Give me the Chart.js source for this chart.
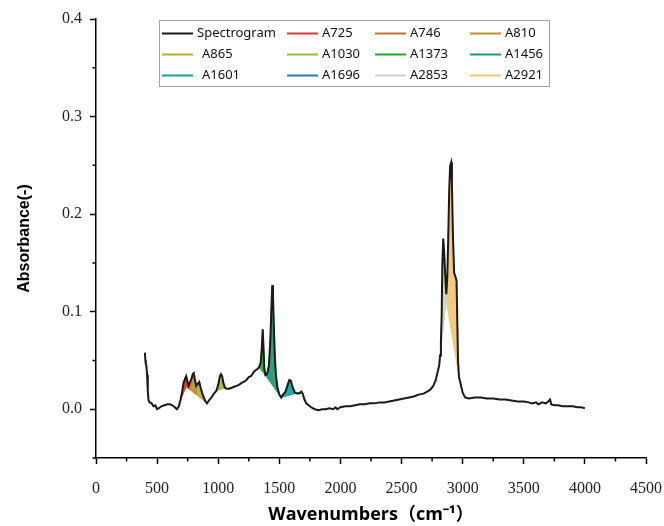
<!DOCTYPE html>
<html>
<head>
<meta charset="utf-8">
<title>FTIR spectrogram</title>
<script src="https://cdn.jsdelivr.net/npm/chart.js@4.4.0/dist/chart.umd.min.js"></script>
<style>
  html, body { margin: 0; padding: 0; background: #fff; }
  canvas { display: block; }
</style>
</head>
<body>
<canvas id="ftir" width="664" height="526"></canvas>
<script>
// spectrum
var wavenumbers = [
  400, 404, 408, 412, 418, 424, 430, 440, 455, 470, 485, 500, 515, 535, 560, 585, 605, 625, 645, 662,
  678, 692, 705, 716, 728, 738, 748, 757, 768, 780, 792, 800, 810, 820, 832, 845, 856, 868, 882, 896,
  908, 925, 945, 965, 985, 1000, 1012, 1022, 1032, 1042, 1055, 1070, 1090, 1110, 1130, 1150, 1170, 1190, 1210, 1230,
  1250, 1270, 1290, 1305, 1320, 1335, 1348, 1356, 1364, 1370, 1377, 1386, 1400, 1415, 1426, 1434, 1442, 1448, 1455, 1463,
  1472, 1485, 1500, 1515, 1530, 1550, 1568, 1582, 1595, 1610, 1628, 1648, 1665, 1680, 1692, 1705, 1720, 1740, 1760, 1790,
  1820, 1850, 1880, 1910, 1940, 1960, 1975, 2000, 2040, 2080, 2120, 2160, 2200, 2240, 2280, 2320, 2360, 2400, 2440, 2480,
  2520, 2560, 2600, 2640, 2680, 2710, 2735, 2760, 2780, 2795, 2808, 2815, 2822, 2828, 2834, 2841, 2848, 2856, 2866, 2874,
  2881, 2890, 2898, 2906, 2912, 2920, 2930, 2940, 2950, 2956, 2962, 2970, 2985, 3000, 3020, 3050, 3100, 3150, 3200, 3250,
  3300, 3350, 3400, 3450, 3500, 3540, 3570, 3600, 3620, 3650, 3680, 3700, 3715, 3725, 3750, 3780, 3820, 3860, 3900, 3940,
  3970, 4000
];
var absorbance = [
  0.058, 0.050, 0.046, 0.045, 0.035, 0.018, 0.009, 0.007, 0.006, 0.003, 0.004, 0.000, 0.001, 0.003, 0.004, 0.005, 0.005, 0.004, 0.002, 0.000,
  0.003, 0.010, 0.018, 0.027, 0.031, 0.034, 0.029, 0.024, 0.027, 0.031, 0.036, 0.037, 0.030, 0.024, 0.026, 0.028, 0.022, 0.017, 0.012, 0.008,
  0.006, 0.009, 0.012, 0.016, 0.019, 0.025, 0.033, 0.036, 0.034, 0.027, 0.022, 0.021, 0.021, 0.022, 0.023, 0.024, 0.025, 0.027, 0.028, 0.030,
  0.033, 0.034, 0.038, 0.040, 0.041, 0.043, 0.048, 0.062, 0.082, 0.065, 0.042, 0.035, 0.036, 0.045, 0.070, 0.100, 0.127, 0.118, 0.085, 0.055,
  0.035, 0.022, 0.015, 0.012, 0.015, 0.018, 0.025, 0.030, 0.029, 0.022, 0.017, 0.016, 0.016, 0.018, 0.016, 0.010, 0.006, 0.004, 0.002, 0.000,
  -0.001, 0.000, 0.000, 0.001, 0.000, 0.002, 0.000, 0.002, 0.003, 0.003, 0.004, 0.005, 0.005, 0.006, 0.006, 0.007, 0.007, 0.008, 0.009, 0.010,
  0.011, 0.012, 0.013, 0.015, 0.016, 0.018, 0.020, 0.024, 0.030, 0.038, 0.045, 0.055, 0.070, 0.095, 0.150, 0.175, 0.162, 0.140, 0.118, 0.135,
  0.170, 0.225, 0.250, 0.253, 0.232, 0.180, 0.140, 0.136, 0.132, 0.090, 0.050, 0.033, 0.025, 0.017, 0.012, 0.011, 0.012, 0.012, 0.011, 0.011,
  0.010, 0.010, 0.009, 0.008, 0.008, 0.007, 0.006, 0.007, 0.005, 0.007, 0.006, 0.008, 0.010, 0.005, 0.004, 0.004, 0.003, 0.003, 0.003, 0.002,
  0.002, 0.001
];

// integrated bands: spectrum between start and end, closed on a straight baseline
var bandNames = ['A725', 'A746', 'A810', 'A865', 'A1030', 'A1373', 'A1456', 'A1601', 'A1696', 'A2853', 'A2921'];
var bandStart = [692, 738, 768, 820, 985, 1335, 1386, 1515, 1680, 2808, 2866];
var bandEnd   = [738, 768, 820, 908, 1055, 1386, 1515, 1680, 1720, 2866, 2970];
var bandBaseStart = [0.010, 0.023, 0.020, 0.015, 0.019, 0.043, 0.035, 0.012, 0.018, 0.045, 0.112];
var bandBaseEnd   = [0.023, 0.020, 0.015, 0.006, 0.022, 0.035, 0.012, 0.018, 0.006, 0.112, 0.033];

var xTicks = [0, 500, 1000, 1500, 2000, 2500, 3000, 3500, 4000, 4500];
var yTicks = [0.0, 0.1, 0.2, 0.3, 0.4];

var lineColor = '#1a1a1a';
var bandColors = ['#e8302e', '#c8702e', '#b8902a', '#b8aa30', '#8cc040', '#20a830',
                  '#1e9a70', '#18a0a0', '#2878c0', '#cfcfcf', '#f5c670'];

function rgba(hex, a) {
  var n = parseInt(hex.slice(1), 16);
  return 'rgba(' + (n >> 16) + ',' + ((n >> 8) & 255) + ',' + (n & 255) + ',' + a + ')';
}

function isMajor(v, step) {
  return Math.abs(v / step - Math.round(v / step)) < 1e-6;
}

var spectrum = wavenumbers.map(function(w, i) {
  return { x: w, y: absorbance[i] };
});

var datasets = [{
  label: 'Spectrogram',
  data: spectrum,
  borderColor: lineColor,
  borderWidth: 2,
  pointRadius: 0,
  fill: false
}];

bandNames.forEach(function(name, i) {
  var pts = spectrum.filter(function(p) {
    return p.x >= bandStart[i] && p.x <= bandEnd[i];
  });
  pts.push({ x: bandEnd[i], y: bandBaseEnd[i] }, { x: bandStart[i], y: bandBaseStart[i] });
  datasets.push({
    label: name,
    data: pts,
    borderColor: bandColors[i],
    backgroundColor: rgba(bandColors[i], 0.92),
    borderWidth: 1,
    pointRadius: 0,
    fill: 'shape'
  });
});

// small ticks between the labelled ones
var minorTicks = {
  id: 'minorTicks',
  afterDraw: function(chart) {
    var ctx = chart.ctx;
    var xs = chart.scales.x, ys = chart.scales.y;
    ctx.save();
    ctx.strokeStyle = '#000';
    ctx.lineWidth = 1.5;
    ctx.beginPath();
    xs.ticks.forEach(function(t) {
      if (isMajor(t.value, 500)) return;
      var px = xs.getPixelForValue(t.value);
      ctx.moveTo(px, xs.top);
      ctx.lineTo(px, xs.top + 3.5);
    });
    ys.ticks.forEach(function(t) {
      if (isMajor(t.value, 0.1) && t.value > -0.01) return;
      var py = ys.getPixelForValue(t.value);
      ctx.moveTo(ys.right, py);
      ctx.lineTo(ys.right - 3.5, py);
    });
    ctx.stroke();
    ctx.restore();
  }
};

// boxed legend in four columns inside the plot
var boxLegend = {
  id: 'boxLegend',
  afterDraw: function(chart) {
    var ctx = chart.ctx;
    var cols = [160, 285, 373, 468];
    var rows = [33.5, 54.5, 75.5];
    ctx.save();
    ctx.fillStyle = '#fff';
    ctx.fillRect(159.5, 20.5, 390, 66);
    ctx.strokeStyle = '#a0a0a0';
    ctx.lineWidth = 1;
    ctx.strokeRect(159.5, 20.5, 390, 66);
    ctx.font = '13px "Noto Sans", sans-serif';
    ctx.textBaseline = 'middle';
    ctx.fillStyle = '#111';
    chart.data.datasets.forEach(function(ds, i) {
      var x = cols[i % 4], y = rows[Math.floor(i / 4)];
      ctx.strokeStyle = ds.borderColor;
      ctx.lineWidth = 2;
      ctx.beginPath();
      ctx.moveTo(x + 2, y);
      ctx.lineTo(x + 33, y);
      ctx.stroke();
      ctx.fillText(ds.label, x + (i % 4 === 0 && i > 0 ? 42 : 37), y);
    });
    ctx.restore();
  }
};

var tickFont = { family: '"Liberation Serif", serif', size: 16 };

new Chart(document.getElementById('ftir'), {
  type: 'line',
  data: { datasets: datasets },
  plugins: [minorTicks, boxLegend],
  options: {
    responsive: false,
    animation: false,
    layout: { padding: { top: 19, right: 18, left: 0, bottom: 0 } },
    plugins: {
      legend: { display: false },
      tooltip: { enabled: false }
    },
    scales: {
      x: {
        type: 'linear',
        min: xTicks[0],
        max: xTicks[xTicks.length - 1],
        ticks: {
          stepSize: 250,
          autoSkip: false,
          maxRotation: 0,
          padding: 15,
          color: '#222',
          font: tickFont,
          callback: function(v) {
            return xTicks.indexOf(v) >= 0 ? String(v) : '';
          }
        },
        grid: {
          drawOnChartArea: false,
          tickLength: 6,
          tickWidth: 1.5,
          tickColor: function(c) {
            return c.tick && isMajor(c.tick.value, 500) ? '#000' : 'rgba(0,0,0,0)';
          }
        },
        border: { color: '#000', width: 1.5 },
        title: {
          display: true,
          text: 'Wavenumbers（cm⁻¹）',
          color: '#000',
          font: { family: '"Open Sans", "Noto Sans CJK SC", sans-serif', weight: 'bold', size: 18 },
          padding: { top: 0, bottom: 0 }
        },
        afterFit: function(s) {
          s.height = 68;
          s.paddingLeft = 0;
          s.paddingRight = 0;
        }
      },
      y: {
        type: 'linear',
        min: -0.05,
        max: yTicks[yTicks.length - 1],
        ticks: {
          stepSize: 0.05,
          autoSkip: false,
          padding: 8,
          color: '#222',
          font: tickFont,
          callback: function(v) {
            var hit = yTicks.filter(function(t) { return Math.abs(t - v) < 1e-6; });
            return hit.length ? hit[0].toFixed(1) : '';
          }
        },
        grid: {
          drawOnChartArea: false,
          tickLength: 6,
          tickWidth: 1.5,
          tickColor: function(c) {
            return c.tick && isMajor(c.tick.value, 0.1) && c.tick.value > -0.01 ? '#000' : 'rgba(0,0,0,0)';
          }
        },
        border: { color: '#000', width: 1.5 },
        title: {
          display: true,
          text: 'Absorbance(-)',
          color: '#000',
          font: { family: '"Liberation Sans", sans-serif', weight: 'bold', size: 16 },
          padding: { top: 15, bottom: 0 }
        },
        afterFit: function(s) { s.width = 96; }
      }
    }
  }
});
</script>
</body>
</html>
